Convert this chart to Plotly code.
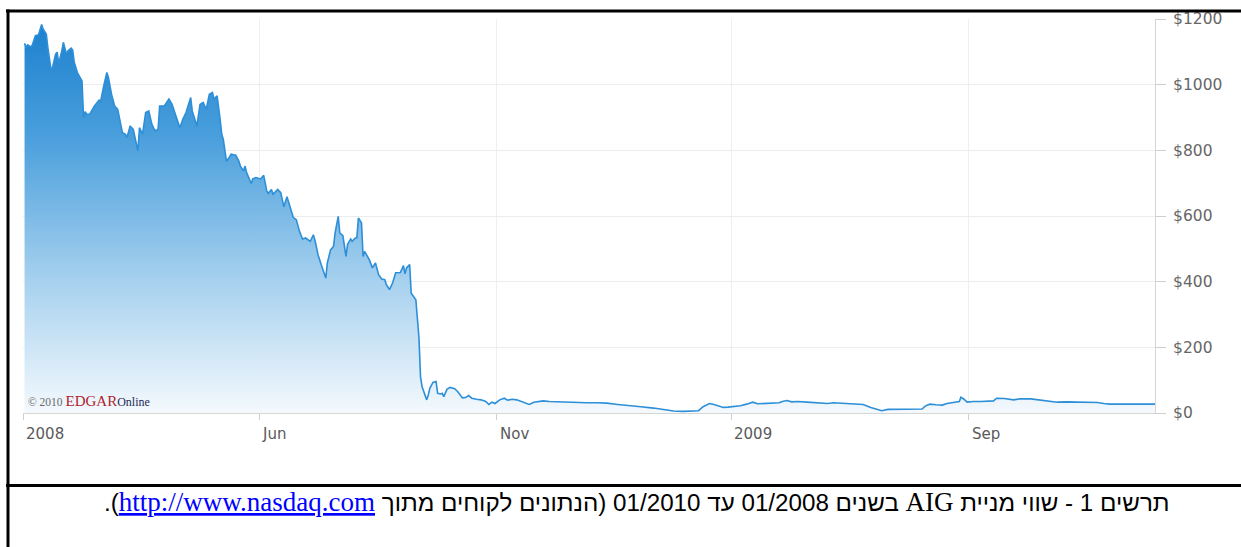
import plotly.graph_objects as go

# ---------------- data ----------------
dates_2008 = [
    "2008-01-02", "2008-01-03", "2008-01-04", "2008-01-06", "2008-01-07", "2008-01-09", "2008-01-11",
    "2008-01-13", "2008-01-14", "2008-01-16", "2008-01-17", "2008-01-19", "2008-01-20", "2008-01-22",
    "2008-01-23", "2008-01-24", "2008-01-26", "2008-01-27", "2008-01-29", "2008-01-30", "2008-02-01",
    "2008-02-02", "2008-02-03", "2008-02-05", "2008-02-08", "2008-02-09", "2008-02-10", "2008-02-11",
    "2008-02-13", "2008-02-16", "2008-02-19", "2008-02-20", "2008-02-22", "2008-02-24", "2008-02-25",
    "2008-02-27", "2008-02-29", "2008-03-02", "2008-03-05", "2008-03-07", "2008-03-08", "2008-03-10",
    "2008-03-12", "2008-03-15", "2008-03-16", "2008-03-18", "2008-03-20", "2008-03-22", "2008-03-24",
    "2008-03-26", "2008-03-28", "2008-03-29", "2008-04-01", "2008-04-04", "2008-04-06", "2008-04-08",
    "2008-04-11", "2008-04-13", "2008-04-15", "2008-04-18", "2008-04-19", "2008-04-22", "2008-04-24",
    "2008-04-26", "2008-04-28", "2008-04-30", "2008-05-02", "2008-05-03", "2008-05-05", "2008-05-07",
    "2008-05-08", "2008-05-09", "2008-05-11", "2008-05-13", "2008-05-14", "2008-05-17", "2008-05-19",
    "2008-05-20", "2008-05-22", "2008-05-23", "2008-05-24", "2008-05-27", "2008-05-28", "2008-05-30",
    "2008-06-02", "2008-06-04", "2008-06-06", "2008-06-07", "2008-06-09", "2008-06-10", "2008-06-13",
    "2008-06-15", "2008-06-17", "2008-06-19", "2008-06-21", "2008-06-23", "2008-06-25", "2008-06-27",
    "2008-06-29", "2008-07-01", "2008-07-04", "2008-07-06", "2008-07-07", "2008-07-09", "2008-07-11",
    "2008-07-14", "2008-07-15", "2008-07-17", "2008-07-19", "2008-07-20", "2008-07-22", "2008-07-23",
    "2008-07-25", "2008-07-27", "2008-07-28", "2008-07-30", "2008-07-31", "2008-08-02", "2008-08-03",
    "2008-08-04", "2008-08-06", "2008-08-07", "2008-08-08", "2008-08-11", "2008-08-13", "2008-08-15",
    "2008-08-17", "2008-08-19", "2008-08-21", "2008-08-22", "2008-08-24", "2008-08-26", "2008-08-28",
    "2008-08-31", "2008-09-02", "2008-09-03", "2008-09-04", "2008-09-06", "2008-09-07", "2008-09-09",
    "2008-09-10", "2008-09-12", "2008-09-13", "2008-09-14", "2008-09-15", "2008-09-17", "2008-09-18",
    "2008-09-19", "2008-09-21", "2008-09-23", "2008-09-24", "2008-09-26", "2008-09-27", "2008-09-28",
    "2008-09-30", "2008-10-02", "2008-10-05", "2008-10-07", "2008-10-10", "2008-10-12", "2008-10-14",
    "2008-10-16", "2008-10-19", "2008-10-22", "2008-10-25", "2008-10-27", "2008-10-29", "2008-10-31",
    "2008-11-03", "2008-11-06", "2008-11-08", "2008-11-11", "2008-11-14", "2008-11-17", "2008-11-22",
    "2008-11-25", "2008-11-29", "2008-12-01", "2008-12-05", "2008-12-10", "2008-12-16", "2008-12-23",
    "2008-12-29",
]
values_2008 = [
    1126, 1114, 1121, 1115, 1121, 1149, 1152,
    1183, 1169, 1154, 1113, 1047, 1052, 1093,
    1099, 1065, 1103, 1129, 1093, 1103, 1111,
    1105, 1068, 1037, 1011, 900, 918, 910,
    910, 935, 953, 949, 996, 1037, 1022,
    971, 935, 925, 854, 849, 839, 874,
    864, 798, 869, 849, 915, 920, 879,
    859, 864, 935, 935, 956, 940, 910,
    869, 895, 915, 961, 920, 874, 940,
    946, 925, 971, 976, 956, 966, 892,
    849, 833, 767, 780, 788, 785, 767,
    752, 737, 752, 732, 699, 713, 717,
    713, 724, 676, 669, 681, 666, 681,
    671, 628, 659, 625, 596, 589, 554,
    530, 533, 523, 543, 526, 482, 452,
    411, 457, 496, 508, 549, 599, 549,
    540, 477, 513, 530, 523, 533, 533,
    594, 579, 477, 492, 467, 442, 457,
    421, 408, 406, 391, 376, 396, 427,
    428, 449, 424, 442, 452, 365, 350,
    345, 228, 110, 80, 65, 40, 55,
    75, 93, 96, 60, 58, 60, 50,
    72, 78, 74, 65, 46, 47, 53,
    45, 42, 40, 35, 26, 33, 29,
    40, 45, 39, 42, 40, 35, 26,
    33, 35, 37, 35, 34, 33, 31,
    31,
]
dates_2009 = [
    "2009-01-05", "2009-01-11", "2009-01-18", "2009-01-24", "2009-02-02", "2009-02-10", "2009-02-17",
    "2009-02-23", "2009-03-01", "2009-03-08", "2009-03-11", "2009-03-14", "2009-03-18", "2009-03-21",
    "2009-03-24", "2009-03-27", "2009-03-30", "2009-04-03", "2009-04-07", "2009-04-11", "2009-04-15",
    "2009-04-18", "2009-04-22", "2009-04-26", "2009-05-02", "2009-05-04", "2009-05-07", "2009-05-10",
    "2009-05-14", "2009-05-20", "2009-05-26", "2009-06-02", "2009-06-06", "2009-06-13", "2009-06-19",
    "2009-06-25", "2009-06-30", "2009-07-04", "2009-07-07", "2009-07-11", "2009-07-19", "2009-07-28",
    "2009-08-02", "2009-08-04", "2009-08-07", "2009-08-11", "2009-08-15", "2009-08-18", "2009-08-22",
    "2009-08-26", "2009-08-27", "2009-08-29", "2009-08-31", "2009-09-04", "2009-09-09", "2009-09-13",
    "2009-09-17", "2009-09-19", "2009-09-24", "2009-09-30", "2009-10-04", "2009-10-11", "2009-10-17",
    "2009-10-24", "2009-10-28", "2009-11-03", "2009-11-10", "2009-11-16", "2009-11-23", "2009-11-27",
    "2009-12-01", "2009-12-08", "2009-12-14", "2009-12-21", "2009-12-27", "2009-12-30",
]
values_2009 = [
    31, 30, 26, 24, 19, 15, 11,
    6, 5, 5, 7, 19, 29, 26,
    21, 17, 18, 20, 22, 27, 33,
    28, 29, 28, 31, 35, 38, 34,
    35, 33, 31, 29, 31, 29, 27,
    26, 17, 11, 7, 11, 11, 11,
    12, 21, 27, 25, 24, 29, 33,
    35, 48, 42, 33, 35, 35, 36,
    37, 45, 44, 40, 43, 43, 40,
    37, 33, 34, 33, 33, 32, 29,
    27, 27, 27, 28, 29, 27,
]

x_tick_dates = ["2008-01-01", "2008-06-01", "2008-11-01", "2009-04-01", "2009-09-01"]
x_tick_labels = ["2008", "Jun", "Nov", "2009", "Sep"]
y_tick_vals = [0, 200, 400, 600, 800, 1000, 1200]
y_tick_labels = ["$0", "$200", "$400", "$600", "$800", "$1000", "$1200"]

caption_head = "תרשים 1 - שווי מניית "
caption_latin = "AIG"
caption_mid = " בשנים 01/2008 עד 01/2010 (הנתונים לקוחים מתוך "
caption_link = "http://www.nasdaq.com"
caption_tail = ")."

# ---------------- figure ----------------
W, H = 1241, 547
PL, PR, PT, PB = 23, 1155, 19, 413  # plot area in pixels


def px(x):
    return (x - PL) / (PR - PL)


def py(y):
    return (PB - y) / (PB - PT)


dates = dates_2008 + dates_2009
values = values_2008 + values_2009

fig = go.Figure()
fig.add_trace(go.Scatter(
    x=dates, y=values, mode="lines",
    line=dict(color="#2d8fd8", width=1.6, shape="linear"),
    fill="tozeroy",
    fillgradient=dict(
        type="vertical", start=0, stop=1200,
        colorscale=[[0.0, "#f4f9fd"], [0.35, "#a3cfee"], [0.7, "#4a9fdc"], [1.0, "#1a7fcd"]],
    ),
    hoverinfo="skip", showlegend=False,
))

fig.update_layout(
    width=W, height=H,
    margin=dict(l=PL, r=W - PR, t=PT, b=H - PB, autoexpand=False),
    paper_bgcolor="white", plot_bgcolor="white",
    xaxis=dict(
        type="date", range=["2008-01-01", "2009-12-30"],
        tickmode="array", tickvals=x_tick_dates, showticklabels=False,
        ticks="outside", ticklen=6, tickcolor="#cfcfcf", tickwidth=1,
        showline=True, linecolor="#d5d5d5", linewidth=1,
        showgrid=True, gridcolor="#efefef", gridwidth=1, zeroline=False,
    ),
    yaxis=dict(
        side="right", range=[0, 1200],
        tickmode="array", tickvals=y_tick_vals, ticktext=y_tick_labels,
        ticks="outside", ticklen=10, tickcolor="#cfcfcf", tickwidth=1,
        ticklabelstandoff=4,
        tickfont=dict(family="DejaVu Sans", size=15.5, color="#666666"),
        showline=True, linecolor="#d5d5d5", linewidth=1,
        showgrid=True, gridcolor="#ececec", gridwidth=1, zeroline=False,
    ),
)

annotations = []
for d, lab in zip(x_tick_dates, x_tick_labels):
    annotations.append(dict(
        x=d, xref="x", y=0, yref="paper", yanchor="top", xanchor="left",
        xshift=1, yshift=-10, text=lab, showarrow=False,
        font=dict(family="DejaVu Sans", size=15, color="#5a5a5a"),
    ))

annotations.append(dict(
    x=px(26), xref="paper", y=py(401), yref="paper", xanchor="left", yanchor="middle",
    showarrow=False,
    text=("<span style='font-size:11.5px;color:#6a6a6a'>© 2010 </span>"
          "<span style='font-size:15px;color:#b0232b'>EDGAR</span>"
          "<span style='font-size:12px;color:#1f2a55'>Online</span>"),
    font=dict(family="Liberation Serif", size=12, color="#555"),
))

caption = ("\u202b" + caption_head
           + "<span style='font-family:Liberation Serif;font-size:27px'>" + caption_latin + "</span>"
           + caption_mid
           + "<a href='http://www.nasdaq.com' style='color:#0000ff;text-decoration:underline;"
             "font-family:Liberation Serif;font-size:27px'>" + caption_link + "</a>"
           + caption_tail + "\u202c")
annotations.append(dict(
    x=px(1172), xref="paper", y=py(502), yref="paper", xanchor="right", yanchor="middle",
    showarrow=False, text=caption,
    font=dict(family="Liberation Sans", size=24.2, color="#000000"),
))
fig.update_layout(annotations=annotations)

# document frame lines
shapes = [
    dict(type="line", xref="paper", yref="paper", x0=px(6), x1=px(1245), y0=py(11), y1=py(11),
         line=dict(color="black", width=3)),
    dict(type="line", xref="paper", yref="paper", x0=px(8), x1=px(8), y0=py(9.5), y1=py(550),
         line=dict(color="black", width=3)),
    dict(type="line", xref="paper", yref="paper", x0=px(6), x1=px(1245), y0=py(485.5), y1=py(485.5),
         line=dict(color="black", width=3)),
]
fig.update_layout(shapes=shapes)

fig.write_html("out.html")
